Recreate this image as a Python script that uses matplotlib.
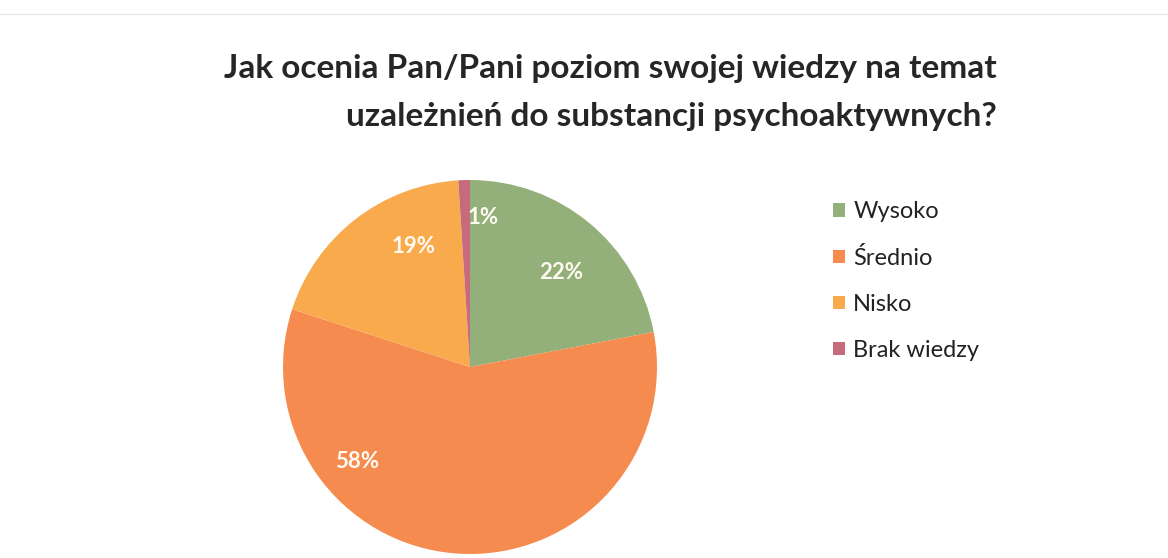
import matplotlib
matplotlib.use('Agg')
import numpy as np
import matplotlib.pyplot as plt

categories = ['Wysoko', 'Średnio', 'Nisko', 'Brak wiedzy']
values = [22, 58, 19, 1]
colors = ['#93B07A', '#F68B4F', '#F9AA4C', '#C66A7C']
title = 'Jak ocenia Pan/Pani poziom swojej wiedzy na temat\nuzależnień do substancji psychoaktywnych?'

plt.rcParams['font.family'] = ['Lato', 'DejaVu Sans']

fig = plt.figure(figsize=(11.68, 5.58), dpi=100)

ax = fig.add_axes([283/1168, 4/558, 374/1168, 374/558])
wedges, texts, autotexts = ax.pie(values, colors=colors, startangle=90, counterclock=False,
                                  autopct='%1.0f%%', pctdistance=0.72,
                                  wedgeprops=dict(linewidth=0),
                                  textprops=dict(color='#FFFBF2', fontsize=16, fontweight='bold'))
ax.set_xlim(-1, 1)
ax.set_ylim(-1, 1)
ax.set_aspect('equal')

# label placement as in Excel's best-fit (angle in degrees, radius fraction)
label_pos = [(46, 0.70), (220, 0.79), (115, 0.71), (85, 0.80)]
for t, (a, r) in zip(autotexts, label_pos):
    t.set_position((r*np.cos(np.deg2rad(a)), r*np.sin(np.deg2rad(a))))

fig.text(997/1168, 1 - 54/558, title, ha='right', va='top', fontsize=24,
         fontweight='bold', color='#262626', linespacing=1.8)

leg = fig.legend(wedges, categories, loc='upper left', bbox_to_anchor=(812/1168, 1 - 180/558),
                 frameon=False, fontsize=17, handlelength=0.5, handleheight=0.5,
                 handletextpad=0.35, labelspacing=1.05, labelcolor='#222222')

fig.add_artist(plt.Line2D([0, 1], [1 - 14/558, 1 - 14/558], color='#e8e8e8', lw=1))

fig.savefig('out.png', dpi=100, facecolor='white')
